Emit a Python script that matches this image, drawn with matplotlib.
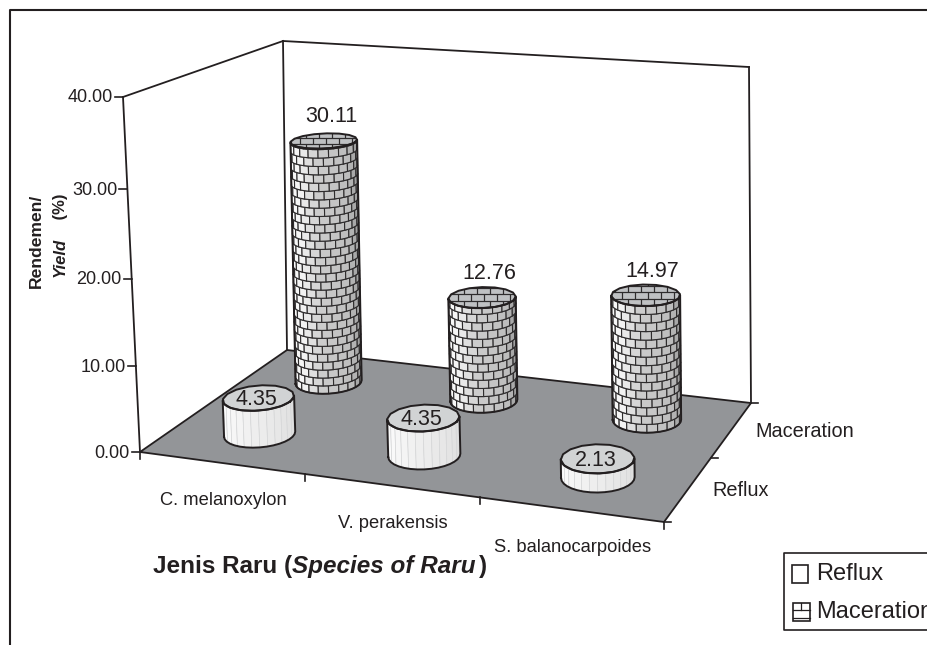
import numpy as np
import matplotlib
matplotlib.use('Agg')
import matplotlib.pyplot as plt
from matplotlib.collections import PolyCollection
from matplotlib.patches import Polygon, Rectangle

plt.rcParams['font.family'] = ['Liberation Sans', 'DejaVu Sans']

# data
categories = ['C. melanoxylon', 'V. perakensis', 'S. balanocarpoides']
series = ['Reflux', 'Maceration']
reflux = [4.35, 4.35, 2.13]
maceration = [30.11, 12.76, 14.97]
y_ticks = [0, 10, 20, 30, 40]
y_max = 40.0

INK = '#231f20'
MORTAR = '#2e2c2d'
FLOOR = '#939598'
W, H = 928, 645

# box corners on the page, floor and ceiling: front-left, front-right, back-right, back-left
floor_px = [(140, 452), (664, 522), (751, 403), (287, 350)]
top_px = [(123, 97), (662, 134), (749, 67), (283, 41)]
RU, RV = 0.065, 0.115  # cylinder radius in floor units


def fit_homography(corners):
    """Homography from the unit square to the four given page points."""
    src = [(0, 0), (1, 0), (1, 1), (0, 1)]
    rows, rhs = [], []
    for (u, v), (x, y) in zip(src, corners):
        rows.append([u, v, 1, 0, 0, 0, -u * x, -v * x])
        rows.append([0, 0, 0, u, v, 1, -u * y, -v * y])
        rhs += [x, y]
    h = np.linalg.solve(np.array(rows, float), np.array(rhs, float))
    return np.append(h, 1).reshape(3, 3)


H_FLOOR = fit_homography(floor_px)
H_TOP = fit_homography(top_px)


def apply_h(m, u, v):
    p = m @ np.array([u, v, np.ones_like(u)])
    return p[0] / p[2], p[1] / p[2]


def project(u, v, w):
    """Box coordinates (category, series, value) to page pixels."""
    u, v = np.asarray(u, float), np.asarray(v, float)
    t = np.asarray(w, float) / y_max
    t = t / (1 + 0.05 * (1 - t))
    x0, y0 = apply_h(H_FLOOR, u, v)
    x1, y1 = apply_h(H_TOP, u, v)
    return (1 - t) * x0 + t * x1, (1 - t) * y0 + t * y1


def ring(u0, v0, phi, w):
    phi = np.asarray(phi, float)
    return project(u0 + RU * np.cos(phi), v0 + RV * np.sin(phi), np.full_like(phi, w))


def silhouette(u0, v0):
    phi = np.linspace(0, 2 * np.pi, 721)
    x, _ = ring(u0, v0, phi, 0)
    left, right = phi[np.argmin(x)], phi[np.argmax(x)]
    if right < left:
        right += 2 * np.pi
    return left, right


def shade(s):
    return np.interp(s, [0, 0.25, 0.45, 0.75, 1], [1.0, 0.95, 0.8, 0.74, 0.55])


def outline(ax, u0, v0, value, left, right, z):
    phi = np.linspace(left, right, 17)
    xb, yb = ring(u0, v0, phi, 0)
    xt, yt = ring(u0, v0, phi[::-1], value)
    ax.plot(np.r_[xb, xt, xb[0]], np.r_[yb, yt, yb[0]], color=INK, lw=1.4, zorder=z)
    phi = np.linspace(0, 2 * np.pi, 17)
    xt, yt = ring(u0, v0, phi, value)
    ax.plot(xt, yt, color=INK, lw=1.4, zorder=z)


def plain_cylinder(ax, u0, v0, value, z):
    left, right = silhouette(u0, v0)
    edges = np.linspace(left, right, 15)
    polys, cols = [], []
    for i in range(len(edges) - 1):
        a, b = edges[i:i + 2]
        xb, yb = ring(u0, v0, [a, b], 0)
        xt, yt = ring(u0, v0, [b, a], value)
        polys.append(np.c_[np.r_[xb, xt], np.r_[yb, yt]])
        g = 1.0 - 0.14 * (i + 0.5) / (len(edges) - 1)
        cols.append((g, g, g))
    ax.add_collection(PolyCollection(polys, facecolors=cols, edgecolors='#d8d9da',
                                     linewidths=0.5, zorder=z))
    phi = np.linspace(0, 2 * np.pi, 17)
    xt, yt = ring(u0, v0, phi, value)
    ax.add_patch(Polygon(np.c_[xt, yt], fc='#d1d3d4', ec='none', zorder=z))
    outline(ax, u0, v0, value, left, right, z)


def brick_cylinder(ax, u0, v0, value, z):
    left, right = silhouette(u0, v0)
    row_h, n_cols = 1.0, 10
    step = (right - left) / n_cols
    polys, cols = [], []
    for r in range(int(np.ceil(value / row_h))):
        w0, w1 = r * row_h, min((r + 1) * row_h, value)
        start = left - (step / 2 if r % 2 else 0)
        for c in range(n_cols + 1):
            a = max(start + c * step, left)
            b = min(start + (c + 1) * step, right)
            if b <= a:
                continue
            sub = np.linspace(a, b, 3)
            xb, yb = ring(u0, v0, sub, w0)
            xt, yt = ring(u0, v0, sub[::-1], w1)
            polys.append(np.c_[np.r_[xb, xt], np.r_[yb, yt]])
            g = shade(((a + b) / 2 - left) / (right - left))
            cols.append((g, g, g))
    ax.add_collection(PolyCollection(polys, facecolors=cols, edgecolors=MORTAR,
                                     linewidths=0.8, zorder=z))

    # brick courses on the top face, drawn level on the page
    phi = np.linspace(0, 2 * np.pi, 17)
    xt, yt = ring(u0, v0, phi, value)
    cap = Polygon(np.c_[xt, yt], fc='#bfc1c3', ec='none', zorder=z)
    ax.add_patch(cap)
    xc, yc = xt.mean(), yt.mean()
    brick_w, brick_h = 13.0, 6.5
    polys = []
    for r in range(-3, 4):
        y_a = yc + (r - 0.5) * brick_h
        for c in range(-4, 5):
            x_a = xc + (c + (0.5 if r % 2 else 0)) * brick_w
            polys.append([(x_a, y_a), (x_a + brick_w, y_a),
                          (x_a + brick_w, y_a + brick_h), (x_a, y_a + brick_h)])
    bricks = PolyCollection(polys, facecolors='none', edgecolors=MORTAR,
                            linewidths=0.8, zorder=z)
    ax.add_collection(bricks)
    bricks.set_clip_path(cap)
    outline(ax, u0, v0, value, left, right, z)


fig = plt.figure(figsize=(W / 100, H / 100), dpi=100)
ax = fig.add_axes([0, 0, 1, 1])
ax.set_xlim(0, W)
ax.set_ylim(H, 0)
ax.axis('off')

# page frame, open on the right and at the bottom
ax.plot([W, 10.3, 10.3], [10.3, 10.3, H], color=INK, lw=1.5, zorder=1)

# walls and floor
ax.add_patch(Polygon(floor_px, fc=FLOOR, ec=INK, lw=1.3, zorder=1, joinstyle='miter'))
wall_lines = [(floor_px[0], top_px[0]), (top_px[0], top_px[3]), (top_px[3], floor_px[3]),
              (top_px[3], top_px[2]), (top_px[2], floor_px[2])]
for a, b in wall_lines:
    ax.plot([a[0], b[0]], [a[1], b[1]], color=INK, lw=1.3, zorder=1)

# value axis
for t in y_ticks:
    x, y = project(0, 0, t)
    ax.plot([x - 8, x], [y, y], color=INK, lw=1.2, zorder=1)
    ax.text(x - 10, y + 1, f'{t:.2f}', ha='right', va='center', fontsize=13, color=INK)

# category axis
n = len(categories)
for i in range(n + 1):
    x, y = project(i / n, 0, 0)
    ax.plot([x, x], [y, y + 7], color=INK, lw=1.2, zorder=1)
for i, name in enumerate(categories):
    x, y = project((i + 0.5) / n, 0, 0)
    ax.text(x + 2, y + 38, name, ha='center', va='center', fontsize=13.2, color=INK)

# series axis
for i in range(len(series) + 1):
    x, y = project(1, i / len(series), 0)
    ax.plot([x, x + 7], [y, y], color=INK, lw=1.2, zorder=1)
for i, name in enumerate(series):
    x, y = project(1, (i + 0.5) / len(series), 0)
    ax.text(x + 24, y + 1.5, name, ha='left', va='center', fontsize=14.3, color=INK)

# cylinders, back row first so the front row overlaps it
z = 3
for i, val in enumerate(maceration):
    u0 = (i + 0.5) / n
    brick_cylinder(ax, u0, 0.75, val, z)
    z += 1
for i, val in enumerate(reflux):
    u0 = (i + 0.5) / n
    plain_cylinder(ax, u0, 0.25, val, z)
    z += 1

for i, val in enumerate(maceration):
    x, y = project((i + 0.5) / n, 0.75, val)
    ax.text(x + 7, y - 24, f'{val:.2f}', ha='center', va='center', fontsize=15.5, color=INK, zorder=20)
for i, val in enumerate(reflux):
    x, y = project((i + 0.5) / n, 0.25, val)
    ax.text(x - 2, y + 2, f'{val:.2f}', ha='center', va='center', fontsize=15.5, color=INK, zorder=20)

# axis titles
ax.text(36, 241, 'Rendemen/', rotation=90, ha='center', va='center',
        fontsize=12.6, fontweight='bold', color=INK)
part = ax.text(60, 277, 'Yield', rotation=90, ha='center', va='bottom',
               fontsize=12, fontweight='bold', fontstyle='italic', color=INK)
ax.annotate('    (%)', xy=(0.5, 1), xycoords=part, rotation=90, ha='center', va='bottom',
            fontsize=12, fontweight='bold', color=INK)

part = ax.text(153, 566, 'Jenis Raru (', ha='left', va='center',
               fontsize=17.5, fontweight='bold', color=INK)
part = ax.annotate('Species of Raru', xy=(1, 0.5), xycoords=part, ha='left', va='center',
                   fontsize=17.5, fontweight='bold', fontstyle='italic', color=INK)
ax.annotate(')', xy=(1, 0.5), xycoords=part, xytext=(2, 0), textcoords='offset points',
            ha='left', va='center', fontsize=17.5, fontweight='bold', color=INK)

# legend box, cut by the page edge as in the source
ax.plot([W, 784, 784, W], [553, 553, 630, 630], color=INK, lw=1.2, zorder=1)
ax.add_patch(Rectangle((792, 565), 16, 18, fc='white', ec=INK, lw=1.2))
ax.add_patch(Rectangle((793, 603), 17, 18, fc='white', ec=INK, lw=1.2))
ax.plot([793, 810], [610, 610], color=INK, lw=0.9)
ax.plot([801, 801], [603, 610], color=INK, lw=0.9)
ax.plot([793, 810], [618, 618], color=INK, lw=0.9)
ax.text(816, 574.5, series[0], ha='left', va='center', fontsize=17, color=INK)
ax.text(816, 612, series[1], ha='left', va='center', fontsize=17, color=INK)

fig.savefig('out.png', dpi=100)
